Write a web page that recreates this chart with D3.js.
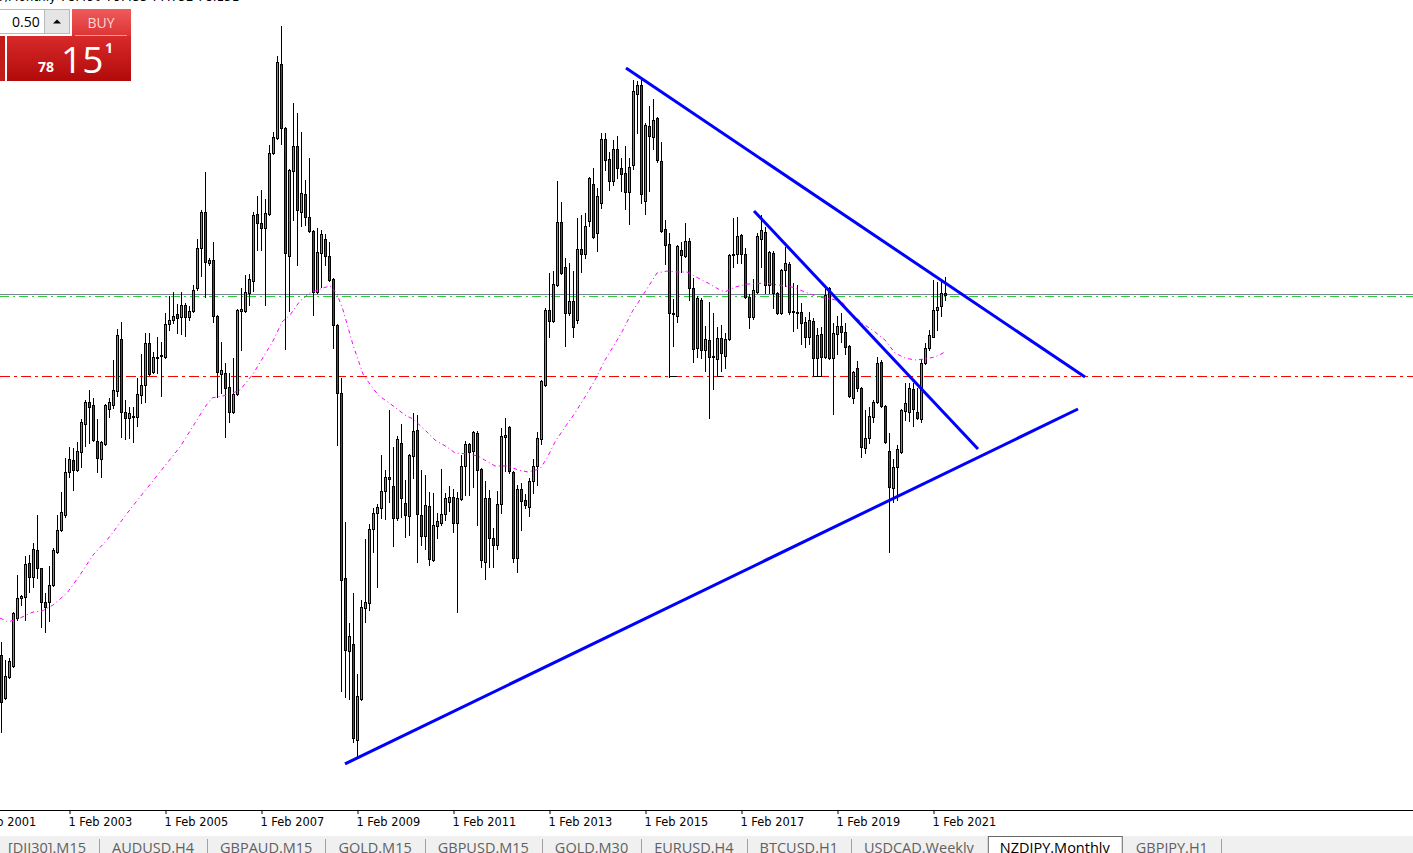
<!DOCTYPE html>
<html>
<head>
<meta charset="utf-8">
<script src="https://cdn.jsdelivr.net/npm/d3@7"></script>
<style>
  html, body { margin: 0; padding: 0; background: #fff; overflow: hidden; }
  svg { display: block; }
</style>
</head>
<body>
<div id="graf"></div>
<script>
// NZDJPY monthly bars, first bar = Sep 2001, last = May 2021
// each row: [open, high, low, close]
const candles = [
  [51.76,52.72,46.13,48.32],[48.62,51.40,48.54,50.23],[50.15,51.54,50.08,51.32],[50.96,54.91,50.88,54.84],
  [54.47,57.62,54.33,55.94],[55.94,56.16,55.42,56.08],[56.01,59.01,54.33,58.43],[58.50,59.08,56.38,57.47],
  [57.47,59.96,56.74,59.52],[59.45,62.01,57.40,58.13],[58.13,58.13,53.81,55.64],[55.64,56.30,53.45,55.28],
  [55.64,58.28,54.25,56.89],[56.89,59.60,56.81,59.45],[59.30,62.01,59.23,60.91],[60.91,63.70,60.84,62.23],
  [62.01,66.18,61.87,65.16],[65.16,66.99,64.79,66.11],[66.04,66.92,63.84,65.31],[65.31,67.36,65.24,66.70],
  [66.62,69.04,65.53,68.82],[68.67,70.43,67.06,70.28],[70.28,71.16,67.28,69.92],[70.06,70.58,67.43,67.50],
  [67.43,69.04,65.16,66.18],[66.11,67.43,64.79,67.36],[67.21,70.13,67.14,70.06],[69.77,70.58,69.19,70.28],
  [70.06,73.36,69.84,71.16],[71.09,75.63,70.72,75.19],[74.90,76.14,67.72,69.55],[69.55,70.43,67.58,69.11],
  [69.11,69.92,67.65,69.48],[69.26,69.92,67.36,69.19],[69.19,72.04,68.53,70.87],[70.80,73.80,70.21,71.53],
  [71.53,75.33,70.28,74.60],[74.60,75.33,72.26,72.33],[72.48,73.94,72.41,73.58],[73.50,75.04,72.41,73.58],
  [73.65,74.68,70.72,73.72],[73.58,76.80,73.50,75.99],[75.99,78.04,75.55,76.29],[76.29,78.34,76.07,76.58],
  [76.72,77.46,75.33,76.43],[76.50,78.34,75.26,77.38],[77.38,77.53,75.11,76.50],[76.50,77.31,76.29,76.94],
  [76.94,78.85,76.87,78.48],[78.63,82.22,78.48,81.56],[81.56,84.34,79.51,84.19],[84.19,87.12,77.97,80.53],
  [80.46,80.83,80.31,80.68],[80.68,82.00,76.14,76.58],[76.58,76.65,70.65,72.48],[72.33,74.68,70.94,72.62],
  [72.41,73.14,67.72,71.31],[71.38,72.41,68.82,69.55],[69.55,73.50,69.48,70.87],[70.87,77.09,70.80,77.02],
  [76.94,78.63,74.09,77.09],[76.94,79.58,76.87,78.34],[78.26,79.66,77.38,79.29],[79.14,84.19,78.41,83.97],
  [84.04,85.36,81.41,83.39],[83.39,85.80,81.41,83.02],[83.02,85.14,77.38,84.12],[84.04,89.10,83.97,88.51],
  [88.51,90.05,88.44,89.68],[89.61,95.61,89.54,95.17],[95.02,97.81,89.17,90.34],[90.34,90.41,74.16,81.19],
  [80.97,87.34,76.94,87.27],[87.19,92.17,83.61,89.02],[89.02,91.44,80.31,84.36],[84.21,90.05,83.17,85.58],
  [85.51,86.53,83.24,83.83],[83.83,88.14,82.73,82.80],[82.80,82.87,76.65,78.34],[78.34,83.02,78.26,81.26],
  [81.19,82.87,78.70,82.58],[82.22,82.58,80.31,80.97],[80.97,82.00,79.14,79.21],[79.29,79.36,74.24,75.92],
  [75.92,75.99,67.14,70.94],[70.94,72.04,49.13,57.25],[57.40,61.50,48.69,52.13],[52.06,54.11,48.54,53.16],
  [52.57,56.30,45.40,45.69],[45.54,50.37,44.22,48.76],[48.54,55.79,48.47,55.28],[55.20,60.26,54.18,55.64],
  [55.57,61.35,55.06,60.99],[60.99,62.52,59.30,62.16],[62.16,62.82,56.74,62.60],[62.52,66.40,61.79,63.77],
  [63.77,65.31,61.72,64.79],[64.79,69.70,62.96,64.65],[64.13,66.99,59.74,61.79],[61.79,67.80,61.64,67.58],
  [67.28,68.67,61.87,63.26],[62.89,64.57,60.40,62.01],[61.94,66.47,60.55,66.40],[66.33,69.48,64.72,68.16],
  [68.23,69.33,58.57,62.08],[62.01,65.31,59.81,60.47],[60.47,64.94,59.52,62.74],[62.67,63.70,58.35,58.79],
  [58.72,63.62,58.65,61.28],[61.21,62.16,60.33,61.57],[61.42,65.38,61.28,62.08],[62.08,63.62,61.64,63.26],
  [62.96,64.13,62.30,63.33],[63.33,63.91,60.77,61.42],[61.42,63.70,54.91,63.26],[63.18,66.40,63.11,65.60],
  [65.60,67.43,63.48,67.21],[67.21,67.28,63.48,66.62],[66.70,68.16,64.06,68.09],[68.01,68.16,61.28,65.31],
  [65.38,65.45,58.21,58.72],[58.57,64.50,57.33,63.26],[63.26,63.84,58.21,60.33],[60.33,61.06,58.21,59.81],
  [59.81,63.77,59.52,62.82],[62.82,68.38,62.16,67.80],[67.72,69.11,65.23,67.87],[68.45,68.52,65.09,65.23],
  [65.16,65.23,58.57,58.86],[58.86,64.21,57.84,63.91],[63.91,64.35,60.91,63.04],[63.11,63.55,62.52,62.74],
  [62.60,64.72,61.94,64.50],[64.50,66.11,63.62,65.60],[65.60,68.09,64.21,67.65],[67.58,71.89,67.21,71.82],
  [71.53,77.16,71.46,77.02],[77.02,79.73,75.04,76.21],[76.21,79.87,76.14,78.92],[78.85,86.46,78.78,83.46],
  [83.46,84.92,79.66,79.73],[80.17,80.83,74.38,76.80],[76.80,80.46,76.65,77.68],[77.68,79.87,75.04,75.77],
  [76.29,83.75,76.07,81.48],[81.48,83.97,79.80,81.12],[81.12,84.12,80.83,83.17],[83.53,86.75,83.17,86.68],
  [86.24,87.41,82.29,82.36],[82.65,85.95,81.34,85.36],[84.85,89.98,84.48,89.54],[89.54,89.98,87.27,87.98],
  [88.07,88.58,85.80,86.46],[86.46,89.46,86.17,88.80],[88.80,89.76,86.68,87.41],[87.41,88.14,85.73,86.97],
  [87.05,89.02,84.41,85.66],[85.66,88.14,83.31,87.49],[87.63,93.85,87.34,93.05],[92.83,93.78,89.98,93.49],
  [93.49,94.00,84.85,85.51],[84.99,90.71,84.04,90.56],[90.49,91.95,85.73,89.76],[89.68,92.46,88.80,90.93],
  [91.07,91.15,87.85,87.98],[87.93,89.32,82.73,82.80],[82.95,83.61,80.39,81.78],[81.85,82.65,72.15,76.80],
  [76.80,77.82,74.38,76.72],[76.58,81.78,76.14,81.70],[81.41,82.00,79.80,81.04],[80.97,83.39,80.90,82.07],
  [82.07,82.29,77.75,78.63],[78.63,79.36,73.21,74.16],[74.24,78.04,73.58,77.89],[77.75,77.89,73.50,74.09],
  [74.09,75.85,72.55,74.90],[74.82,77.60,69.11,73.58],[73.65,76.80,71.23,73.58],[73.43,75.77,72.18,74.97],
  [74.97,75.92,72.55,73.87],[73.65,75.33,72.77,74.90],[74.90,81.12,74.82,81.04],[81.04,83.75,80.17,81.12],
  [81.12,83.83,80.46,82.43],[82.51,82.58,80.46,81.12],[81.12,81.56,77.89,77.97],[77.97,78.19,75.70,76.50],
  [76.50,79.29,76.36,78.48],[78.34,82.65,78.26,82.43],[82.22,83.97,80.17,82.87],[82.73,83.09,78.26,78.85],
  [78.85,81.34,78.26,81.26],[81.19,81.34,77.16,78.26],[78.26,78.34,76.72,76.80],[76.80,80.02,76.72,79.95],
  [79.95,81.63,78.78,80.46],[80.39,80.53,76.72,76.87],[76.94,78.99,75.48,76.87],[76.87,78.85,75.70,76.80],
  [76.87,77.53,74.53,76.07],[76.14,76.50,74.31,75.04],[75.04,76.87,74.53,76.29],[76.21,76.43,72.18,73.50],
  [73.50,75.70,72.18,75.19],[75.26,75.77,72.18,73.58],[73.58,78.56,73.50,78.12],[78.63,78.70,73.43,73.50],
  [73.50,76.07,69.40,75.33],[75.26,76.58,73.80,75.85],[75.85,76.80,74.68,75.41],[75.41,76.07,73.80,74.31],
  [74.38,74.45,70.65,70.72],[70.58,72.55,70.21,72.48],[72.77,73.28,71.09,71.31],[71.31,71.38,66.26,66.99],
  [66.92,69.70,66.55,67.65],[67.65,69.92,67.28,69.26],[69.19,70.43,68.82,70.28],[70.28,73.58,70.21,73.14],
  [73.21,73.36,69.92,69.99],[69.99,70.06,67.28,67.36],[66.70,68.01,59.30,64.06],[63.99,66.11,62.96,65.53],
  [65.53,67.14,63.11,66.84],[66.62,69.77,66.55,69.70],[69.62,71.67,68.96,70.21],[69.55,71.67,68.89,71.31],
  [71.23,71.67,68.53,69.77],[69.55,71.31,69.04,69.11],[69.04,73.43,68.82,73.14],[73.14,74.60,73.07,74.24],
  [74.24,75.55,74.09,75.19],[75.04,79.21,75.04,77.02],[77.02,79.07,75.55,77.24],[77.31,79.14,76.58,78.26],
  [78.26,79.43,77.75,78.15]
]

// moving average: [bar index, price]
const maLine = [
  [-0.25,54.47],[1.75,54.18],[4.75,54.47],[8,54.91],[10.25,54.98],[13,55.42],[16.5,56.30],[19.75,57.62],
  [23,59.08],[26.5,60.18],[29,61.13],[31,61.94],[34.75,63.33],[39.75,65.16],[44.75,66.99],[48.5,68.74],
  [51,69.92],[52.75,70.58],[56.75,70.80],[59.75,71.16],[63,72.33],[68,74.75],[70.25,76.14],[72.25,76.65],
  [74.75,77.68],[77.25,78.26],[80.5,78.63],[82.25,78.78],[84,78.19],[85.5,77.02],[88,74.46],[90.5,72.33],
  [91.5,71.89],[94.25,70.80],[97.75,70.06],[101,69.33],[103,69.04],[106,68.23],[108.5,67.50],[111.5,66.99],
  [113.5,66.55],[116.75,66.48],[119.25,66.33],[121.75,65.89],[123.5,65.60],[126.75,65.60],[129.25,65.31],
  [131.75,65.16],[134.75,65.38],[136.5,66.18],[138.5,67.36],[141,68.45],[143.5,69.48],[146,70.65],
  [148.5,71.89],[151,73.36],[151.75,73.72],[155.25,75.41],[157.75,76.87],[161,78.34],[164,79.73],
  [166.5,79.87],[169.25,79.80],[171.5,79.80],[174.25,79.36],[176.75,78.99],[179.75,78.48],[181,78.34],
  [183.5,78.70],[186.75,78.92],[191,78.99],[194.25,78.85],[197.75,78.70],[201,78.34],[204.25,77.97],
  [207.75,77.82],[210.25,77.60],[211.75,77.02],[215.25,76.07],[218.5,75.41],[221,74.82],[223.5,73.87],
  [226,73.50],[228.5,73.36],[231,73.43],[233.5,73.58],[236,73.94]
]

// hand drawn trend lines: [[bar, price], [bar, price]]
const trendLines = [
  [[156.25, 94.73], [271, 72.11]],
  [[188.25, 84.27], [244.25, 66.84]],
  [[86, 43.79], [269.25, 69.77]]
]

const bidPrice = 78.15
const greenLevel = 78.03
const redLevel = 72.15
// short black marks where bars touched the red level: [from bar, to bar]
const redTouches = [[167, 169], [179, 180.25], [203, 205.25]]

const tickBars = [-7, 17, 41, 65, 89, 113, 137, 161, 185, 209, 233]
const tickLabels = ['1 Feb 2001', '1 Feb 2003', '1 Feb 2005', '1 Feb 2007', '1 Feb 2009', '1 Feb 2011',
  '1 Feb 2013', '1 Feb 2015', '1 Feb 2017', '1 Feb 2019', '1 Feb 2021']

const tabNames = ['[DJI30].M15', 'AUDUSD.H4', 'GBPAUD.M15', 'GOLD.M15', 'GBPUSD.M15', 'GOLD.M30',
  'EURUSD.H4', 'BTCUSD.H1', 'USDCAD.Weekly', 'NZDJPY.Monthly', 'GBPJPY.H1']
const activeTab = 'NZDJPY.Monthly'

const W = 1413
const H = 853
const plotH = 810

const svg = d3.select('#graf').append('svg')
  .attr('width', W)
  .attr('height', H)
  .style('font-family', '"DejaVu Sans", sans-serif')

const defs = svg.append('defs')
defs.append('clipPath').attr('id', 'plot')
  .append('rect').attr('x', 0).attr('y', 0).attr('width', W).attr('height', plotH)

// one bar = 4px, bar 0 centred on x=1
const x = d3.scaleLinear().domain([0, 1]).range([1, 5])
const y = d3.scaleLinear().domain([40.418, 99.71]).range([plotH, 0])
const py = v => Math.floor(y(v)) + 0.5

const g = svg.append('g').attr('clip-path', 'url(#plot)')

// price levels
g.append('line')
  .attr('x1', 0).attr('x2', W)
  .attr('y1', py(bidPrice)).attr('y2', py(bidPrice))
  .attr('stroke', '#778899')
g.append('line')
  .attr('x1', 0).attr('x2', W)
  .attr('y1', py(greenLevel)).attr('y2', py(greenLevel))
  .attr('stroke', '#32cd32')
  .attr('stroke-dasharray', '9,4,2,4')
g.append('line')
  .attr('x1', 0).attr('x2', W)
  .attr('y1', py(redLevel)).attr('y2', py(redLevel))
  .attr('stroke', '#ff0000')
  .attr('stroke-dasharray', '10,4,3,4')
g.selectAll('line.touch')
  .data(redTouches)
  .join('line')
  .attr('class', 'touch')
  .attr('x1', d => x(d[0])).attr('x2', d => x(d[1]))
  .attr('y1', py(redLevel)).attr('y2', py(redLevel))
  .attr('stroke', '#000')

// candles
const bars = g.append('g')
bars.selectAll('line.wick')
  .data(candles)
  .join('line')
  .attr('class', 'wick')
  .attr('x1', (d, i) => x(i) + 0.5)
  .attr('x2', (d, i) => x(i) + 0.5)
  .attr('y1', d => Math.round(y(d[1])))
  .attr('y2', d => Math.round(y(d[2])) + 1)
  .attr('stroke', '#000')

bars.selectAll('rect.body')
  .data(candles)
  .join('rect')
  .attr('class', 'body')
  .attr('x', (d, i) => x(i) - 0.5)
  .attr('width', 2)
  .attr('y', d => Math.round(y(Math.max(d[0], d[3]))) + 0.5)
  .attr('height', d => Math.max(1, Math.round(y(Math.min(d[0], d[3]))) - Math.round(y(Math.max(d[0], d[3])))))
  .attr('fill', d => d[3] >= d[0] ? '#30c030' : '#c8143c')
  .attr('stroke', '#000')

// moving average
g.append('path')
  .datum(maLine)
  .attr('d', d3.line().x(d => x(d[0])).y(d => y(d[1])))
  .attr('fill', 'none')
  .attr('stroke', '#ff00ff')
  .attr('stroke-width', 1)
  .attr('stroke-dasharray', '4,3,1,3')

// trend lines
g.selectAll('line.trend')
  .data(trendLines)
  .join('line')
  .attr('class', 'trend')
  .attr('x1', d => x(d[0][0])).attr('y1', d => y(d[0][1]))
  .attr('x2', d => x(d[1][0])).attr('y2', d => y(d[1][1]))
  .attr('stroke', '#0000ff')
  .attr('stroke-width', 3)

// time axis
svg.append('line')
  .attr('x1', 0).attr('x2', W)
  .attr('y1', plotH + 0.5).attr('y2', plotH + 0.5)
  .attr('stroke', '#000')

const axis = svg.append('g').attr('transform', `translate(0, ${plotH})`)
  .call(d3.axisBottom(x)
    .tickValues(tickBars)
    .tickFormat((d, i) => tickLabels[i])
    .tickSize(4))
axis.select('.domain').remove()
axis.selectAll('.tick line').attr('transform', 'translate(0.5,0)')
axis.selectAll('.tick text')
  .attr('text-anchor', 'start')
  .attr('x', -1)
  .attr('y', 16)
  .attr('dy', 0)
  .attr('fill', '#000')
  .style('font-family', '"DejaVu Sans", sans-serif')
  .style('font-size', '11.4px')

// tab strip
svg.append('rect')
  .attr('x', 0).attr('y', 836).attr('width', W).attr('height', H - 836)
  .attr('fill', '#f0f0f0')

const tabs = svg.append('g')
  .style('font-family', '"Open Sans", sans-serif')
  .style('font-size', '14.5px')
let tx = 8
tabNames.forEach((name, i) => {
  const isActive = name === activeTab
  if (isActive) {
    const t = tabs.append('text').attr('x', tx + 12).attr('y', 853).attr('fill', '#000').text(name)
    const w = t.node().getComputedTextLength()
    tabs.insert('rect', 'text')
      .attr('x', tx + 0.5).attr('y', 836.5)
      .attr('width', w + 24).attr('height', 20)
      .attr('fill', '#fff').attr('stroke', '#666')
    tx = tx + w + 24 + 14
  } else {
    const t = tabs.append('text').attr('x', tx).attr('y', 853).attr('fill', '#606060').text(name)
    const w = t.node().getComputedTextLength()
    const next = tabNames[i + 1]
    if (next === activeTab) {
      tx = tx + w + 14
    } else {
      tabs.append('line')
        .attr('x1', Math.round(tx + w + 13) + 0.5).attr('x2', Math.round(tx + w + 13) + 0.5)
        .attr('y1', 839).attr('y2', H)
        .attr('stroke', '#a0a0a0')
      tx = tx + w + 26
    }
  }
})

// cut off header text at the very top
svg.append('text')
  .attr('x', -40).attr('y', 1)
  .style('font-size', '12px')
  .attr('fill', '#000')
  .text('NZDJPY,Monthly  78.490 79.433 77.752 78.151')

// one click trading panel
const gBuy = defs.append('linearGradient').attr('id', 'gBuy')
  .attr('x1', 0).attr('y1', 0).attr('x2', 0).attr('y2', 1)
gBuy.append('stop').attr('offset', '0%').attr('stop-color', '#ef5b5b')
gBuy.append('stop').attr('offset', '100%').attr('stop-color', '#dc3434')
const gBig = defs.append('linearGradient').attr('id', 'gBig')
  .attr('x1', 0).attr('y1', 0).attr('x2', 0).attr('y2', 1)
gBig.append('stop').attr('offset', '0%').attr('stop-color', '#d82a2a')
gBig.append('stop').attr('offset', '100%').attr('stop-color', '#b10a0a')

const panel = svg.append('g').style('font-family', '"Open Sans", sans-serif')
panel.append('rect').attr('x', -1).attr('y', 9.5).attr('width', 45.5).attr('height', 24)
  .attr('fill', '#fff').attr('stroke', '#b9b9b9')
panel.append('text').attr('x', 12).attr('y', 27).style('font-size', '14px').attr('fill', '#000').text('0.50')
panel.append('rect').attr('x', 44.5).attr('y', 9.5).attr('width', 25).attr('height', 24)
  .attr('fill', '#e5e5e5').attr('stroke', '#b9b9b9')
panel.append('path').attr('d', 'M53,23.5 L57,19.5 L61,23.5 Z').attr('fill', '#000')

panel.append('rect').attr('x', 72).attr('y', 9).attr('width', 59).attr('height', 27).attr('fill', 'url(#gBuy)')
panel.append('text').attr('x', 101).attr('y', 28).attr('text-anchor', 'middle')
  .style('font-size', '14px').attr('fill', '#ffd6d6').text('BUY')
panel.append('line').attr('x1', 75).attr('x2', 127).attr('y1', 35.5).attr('y2', 35.5).attr('stroke', '#f59a9a')

panel.append('rect').attr('x', 0).attr('y', 36).attr('width', 5).attr('height', 45).attr('fill', '#c41a1a')
panel.append('rect').attr('x', 7).attr('y', 36).attr('width', 124).attr('height', 45).attr('fill', 'url(#gBig)')
panel.append('text').attr('x', 38).attr('y', 72).style('font-size', '14px').style('font-weight', 'bold')
  .attr('fill', '#fff').text('78')
panel.append('text').attr('x', 61).attr('y', 73).style('font-size', '37px')
  .attr('fill', '#fff').text('15')
panel.append('text').attr('x', 105).attr('y', 53).style('font-size', '14px').style('font-weight', 'bold')
  .attr('fill', '#fff').text('1')
</script>
</body>
</html>
